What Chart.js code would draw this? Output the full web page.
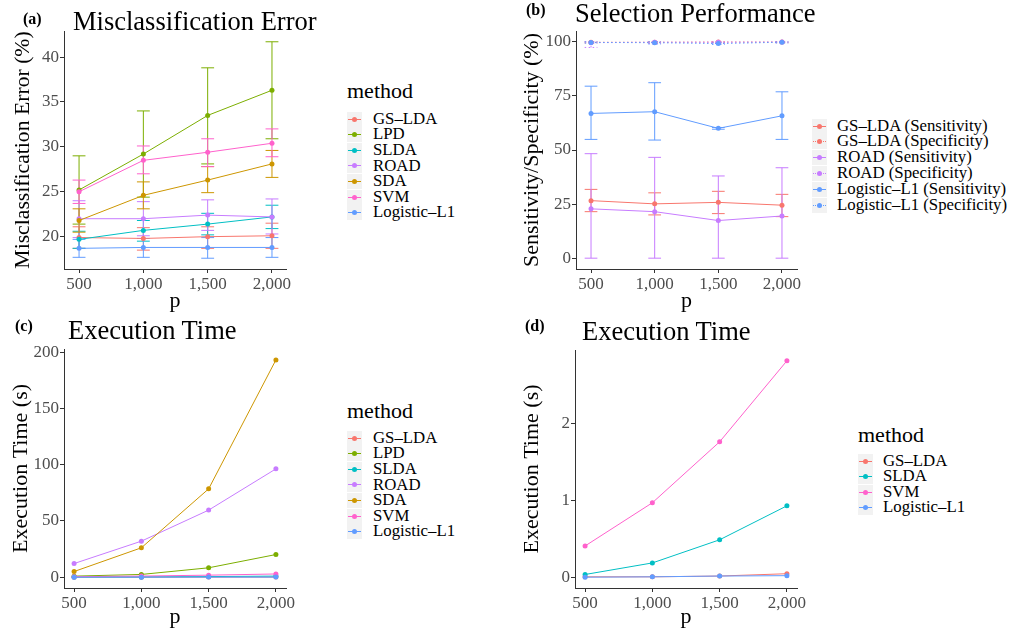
<!DOCTYPE html>
<html>
<head>
<meta charset="utf-8">
<script src="https://cdn.jsdelivr.net/npm/chart.js@4.4.1/dist/chart.umd.min.js"></script>
<style>
  body { margin: 0; width: 1024px; height: 634px; overflow: hidden; background: #fff; position: relative;
         font-family: "Liberation Serif", "Times New Roman", serif; }
  canvas { position: absolute; }
  .txt { position: absolute; white-space: nowrap; color: #000; }
  .title { font-size: 26.5px; line-height: 26.5px; }
  .tag { font-size: 16px; line-height: 16px; font-weight: bold; }
  .legtitle { font-size: 22px; line-height: 22px; }
  .lab { font-size: 16.8px; line-height: 16.8px; }
  .key { position: absolute; width: 15px; height: 15px; background: #f2f2f2; }
  .key .ln { position: absolute; left: 1px; right: 1px; top: 7px; height: 0; border-top-width: 1px; }
  .key .pt { position: absolute; left: 5px; top: 5px; width: 5px; height: 5px; border-radius: 50%; }
</style>
</head>
<body>
<canvas id="chartA" width="300" height="318" style="left:0;top:0"></canvas>
<canvas id="chartB" width="300" height="318" style="left:510px;top:0"></canvas>
<canvas id="chartC" width="300" height="324" style="left:0;top:310px"></canvas>
<canvas id="chartD" width="300" height="324" style="left:510px;top:310px"></canvas>

<div class="txt tag" style="left:23px;top:10.5px">(a)</div>
<div class="txt title" style="left:73px;top:7.8px">Misclassification Error</div>
<div class="txt tag" style="left:526px;top:2px">(b)</div>
<div class="txt title" style="left:575px;top:-0.5px">Selection Performance</div>
<div class="txt tag" style="left:15px;top:317.5px">(c)</div>
<div class="txt title" style="left:68px;top:316.8px">Execution Time</div>
<div class="txt tag" style="left:525px;top:317.5px">(d)</div>
<div class="txt title" style="left:582px;top:317.8px">Execution Time</div>
<div id="legends"></div>

<script>
// x values and ticks
const pValues = [500, 1000, 1500, 2000];
const pTicks = [500, 1000, 1500, 2000];

const methods = ['GS–LDA', 'LPD', 'SLDA', 'ROAD', 'SDA', 'SVM', 'Logistic–L1'];

// (a) misclassification error (%), mean and error bar ends
const errMean = [
  [19.9, 19.8, 20.0, 20.1],
  [25.2, 29.2, 33.5, 36.3],
  [19.7, 20.7, 21.4, 22.2],
  [22.0, 22.0, 22.4, 22.2],
  [21.8, 24.6, 26.3, 28.1],
  [25.0, 28.5, 29.4, 30.4],
  [18.7, 18.8, 18.8, 18.8]
];
const errLow = [
  [18.7, 18.5, 18.7, 18.7],
  [21.4, 24.4, 28.1, 30.9],
  [18.7, 19.5, 20.2, 20.9],
  [19.9, 20.1, 20.7, 20.3],
  [20.5, 23.1, 24.9, 26.6],
  [23.7, 27.0, 27.8, 28.9],
  [17.7, 17.7, 17.6, 17.7]
];
const errHigh = [
  [21.1, 21.0, 21.1, 21.5],
  [29.0, 34.0, 38.8, 41.7],
  [20.6, 21.8, 22.6, 23.5],
  [24.0, 23.9, 24.1, 24.2],
  [23.1, 26.1, 27.8, 29.6],
  [26.3, 30.1, 30.9, 32.0],
  [19.7, 19.8, 19.9, 19.9]
];
const errTicks = [20, 25, 30, 35, 40];

// (b) selection performance (%)
const selLabels = ['GS–LDA (Sensitivity)', 'GS–LDA (Specificity)', 'ROAD (Sensitivity)',
                   'ROAD (Specificity)', 'Logistic–L1 (Sensitivity)', 'Logistic–L1 (Specificity)'];
const selMethod = ['GS–LDA', 'GS–LDA', 'ROAD', 'ROAD', 'Logistic–L1', 'Logistic–L1'];
const selMean = [
  [26.6, 25.1, 25.8, 24.5],
  [99.8, 99.8, 99.9, 99.9],
  [22.8, 21.5, 17.4, 19.5],
  [99.6, 99.8, 99.8, 99.9],
  [66.9, 67.7, 60.0, 65.8],
  [99.7, 99.6, 99.2, 99.8]
];
const selLow = [
  [21.5, 20.0, 20.6, 19.2],
  [99.5, 99.5, 99.6, 99.6],
  [0, 0, 0, 0],
  [97.4, 99.2, 99.4, 99.6],
  [54.9, 54.6, 59.6, 54.9],
  [99.4, 99.0, 98.8, 99.5]
];
const selHigh = [
  [31.8, 30.2, 30.9, 29.5],
  [100, 100, 100, 100],
  [48.3, 46.6, 38.0, 41.8],
  [100, 100, 100, 100],
  [79.5, 81.1, 60.4, 76.9],
  [100, 100, 99.6, 100]
];
const selTicks = [0, 25, 50, 75, 100];

// (c)/(d) execution time (s)
const timeMean = [
  [0.01, 0.01, 0.02, 0.05],
  [0.9, 2.4, 8.3, 20.1],
  [0.04, 0.19, 0.49, 0.93],
  [12.1, 32.0, 59.6, 96.3],
  [5.0, 26.1, 78.5, 193.2],
  [0.41, 0.97, 1.76, 2.81],
  [0.005, 0.01, 0.02, 0.025]
];
const timeTicksC = [0, 50, 100, 150, 200];
const methodsD = ['GS–LDA', 'SLDA', 'SVM', 'Logistic–L1'];
const timeTicksD = [0, 1, 2];

// styles
const methodColor = {
  'GS–LDA': '#F8766D', 'LPD': '#7CAE00', 'SLDA': '#00BFC4', 'ROAD': '#C77CFF',
  'SDA': '#CD9600', 'SVM': '#FF61CC', 'Logistic–L1': '#619CFF'
};
const serif = '"Liberation Serif", "Times New Roman", serif';
const axisColor = '#333';
const tickFont = { family: serif, size: 17 };
const capHalf = 50;

const errorBarPlugin = {
  id: 'errorBars',
  beforeDatasetsDraw(chart) {
    const { ctx, scales: { x, y } } = chart;
    ctx.save();
    chart.data.datasets.forEach(ds => {
      if (!ds.low) return;
      ctx.strokeStyle = ds.borderColor;
      ctx.lineWidth = 1;
      ctx.setLineDash(ds.borderDash || []);
      ds.data.forEach((pt, j) => {
        const px = x.getPixelForValue(pt.x);
        const cap = x.getPixelForValue(pt.x + capHalf) - px;
        const yl = y.getPixelForValue(ds.low[j]);
        const yh = y.getPixelForValue(ds.high[j]);
        ctx.beginPath();
        ctx.moveTo(px, yl); ctx.lineTo(px, yh);
        ctx.moveTo(px - cap, yl); ctx.lineTo(px + cap, yl);
        ctx.moveTo(px - cap, yh); ctx.lineTo(px + cap, yh);
        ctx.stroke();
      });
    });
    ctx.restore();
  }
};

function series(label, color, vals, n, i, extra) {
  return Object.assign({
    label: label,
    data: pValues.map((p, j) => ({ x: p, y: vals[j] })),
    borderColor: color,
    backgroundColor: color,
    borderWidth: 1,
    pointRadius: 2.5,
    pointBorderWidth: 0,
    tension: 0,
    order: n - i
  }, extra || {});
}

function makeChart(id, cfg) {
  return new Chart(document.getElementById(id), {
    type: 'line',
    data: { datasets: cfg.datasets },
    options: {
      responsive: false,
      animation: false,
      layout: { padding: { top: cfg.top, right: cfg.right, left: 0, bottom: 0 } },
      plugins: { legend: { display: false }, tooltip: { enabled: false } },
      scales: {
        x: {
          type: 'linear', min: cfg.xMin, max: cfg.xMax,
          afterBuildTicks: s => { s.ticks = pTicks.map(v => ({ value: v })); },
          afterFit: s => { s.height = cfg.xHeight; },
          ticks: { font: tickFont, color: '#4D4D4D', padding: 1, maxRotation: 0,
                   callback: v => v.toLocaleString('en-US') },
          grid: { drawOnChartArea: false, tickLength: 4, color: axisColor },
          border: { color: axisColor, width: 1 },
          title: { display: true, text: 'p', color: '#000', font: { family: serif, size: 22 },
                   padding: { top: 0, bottom: 4 } }
        },
        y: {
          type: 'linear', min: cfg.yMin, max: cfg.yMax,
          afterBuildTicks: s => { s.ticks = cfg.yTicks.map(v => ({ value: v })); },
          afterFit: s => { s.width = cfg.yWidth; },
          ticks: { font: tickFont, color: '#4D4D4D', padding: 1 },
          grid: { drawOnChartArea: false, tickLength: 4, color: axisColor },
          border: { color: axisColor, width: 1 },
          title: { display: true, text: cfg.yTitle, color: '#000',
                   font: { family: serif, size: cfg.yTitleSize || 22 },
                   padding: { top: cfg.yTitlePad, bottom: 0 } }
        }
      }
    },
    plugins: [errorBarPlugin]
  });
}

// (a)
makeChart('chartA', {
  datasets: methods.map((m, i) => series(m, methodColor[m], errMean[i], methods.length, i,
    { low: errLow[i], high: errHigh[i] })),
  top: 31, right: 14, xHeight: 49, yWidth: 64,
  xMin: 383, xMax: 2109, yMin: 16.4, yMax: 42.9, yTicks: errTicks,
  yTitle: 'Misclassification Error (%)', yTitleSize: 21.7, yTitlePad: 10
});

// (b)
makeChart('chartB', {
  datasets: selLabels.map((l, i) => series(l, methodColor[selMethod[i]], selMean[i], selLabels.length, i,
    { low: selLow[i], high: selHigh[i], borderDash: i % 2 ? [1.5, 2.5] : [] })),
  top: 31, right: 13, xHeight: 49, yWidth: 66,
  xMin: 382, xMax: 2118, yMin: -5, yMax: 105, yTicks: selTicks,
  yTitle: 'Sensitivity/Specificity (%)', yTitlePad: 8.8
});

// (c)
makeChart('chartC', {
  datasets: methods.map((m, i) => series(m, methodColor[m], timeMean[i], methods.length, i)),
  top: 39, right: 14, xHeight: 46, yWidth: 64,
  xMin: 425, xMax: 2075, yMin: -9.66, yMax: 202.9, yTicks: timeTicksC,
  yTitle: 'Execution Time (s)', yTitlePad: 7.8
});

// (d)
makeChart('chartD', {
  datasets: methodsD.map((m, i) => series(m, methodColor[m], timeMean[methods.indexOf(m)], methodsD.length, i)),
  top: 40, right: 13, xHeight: 46, yWidth: 65,
  xMin: 425, xMax: 2075, yMin: -0.135, yMax: 2.95, yTicks: timeTicksD,
  yTitle: 'Execution Time (s)', yTitlePad: 8.8
});

// ggplot-style legends
const host = document.getElementById('legends');
function addText(cls, text, left, top) {
  const d = document.createElement('div');
  d.className = 'txt ' + cls;
  d.textContent = text;
  d.style.left = left + 'px';
  d.style.top = top + 'px';
  host.appendChild(d);
}
function buildLegend(items, keyLeft, textLeft, firstY, step, title, titleTop) {
  if (title) addText('legtitle', title, keyLeft, titleTop);
  items.forEach((it, i) => {
    const cy = firstY + i * step;
    const k = document.createElement('div');
    k.className = 'key';
    k.style.left = keyLeft + 'px';
    k.style.top = (cy - 7.5) + 'px';
    k.innerHTML = '<div class="ln" style="border-top-style:' + (it.dotted ? 'dotted' : 'solid') +
      ';border-top-color:' + it.color + '"></div><div class="pt" style="background:' + it.color + '"></div>';
    host.appendChild(k);
    addText('lab', it.label, textLeft, cy - 8.4);
  });
}
buildLegend(methods.map(m => ({ label: m, color: methodColor[m] })), 347, 373, 119.3, 15.56, 'method', 79.6);
buildLegend(selLabels.map((l, i) => ({ label: l, color: methodColor[selMethod[i]], dotted: i % 2 === 1 })),
  812, 837, 126, 15.8);
buildLegend(methods.map(m => ({ label: m, color: methodColor[m] })), 347, 373, 438.3, 15.56, 'method', 399.6);
buildLegend(methodsD.map(m => ({ label: m, color: methodColor[m] })), 858, 883, 461, 15.56, 'method', 423.6);
</script>
</body>
</html>
